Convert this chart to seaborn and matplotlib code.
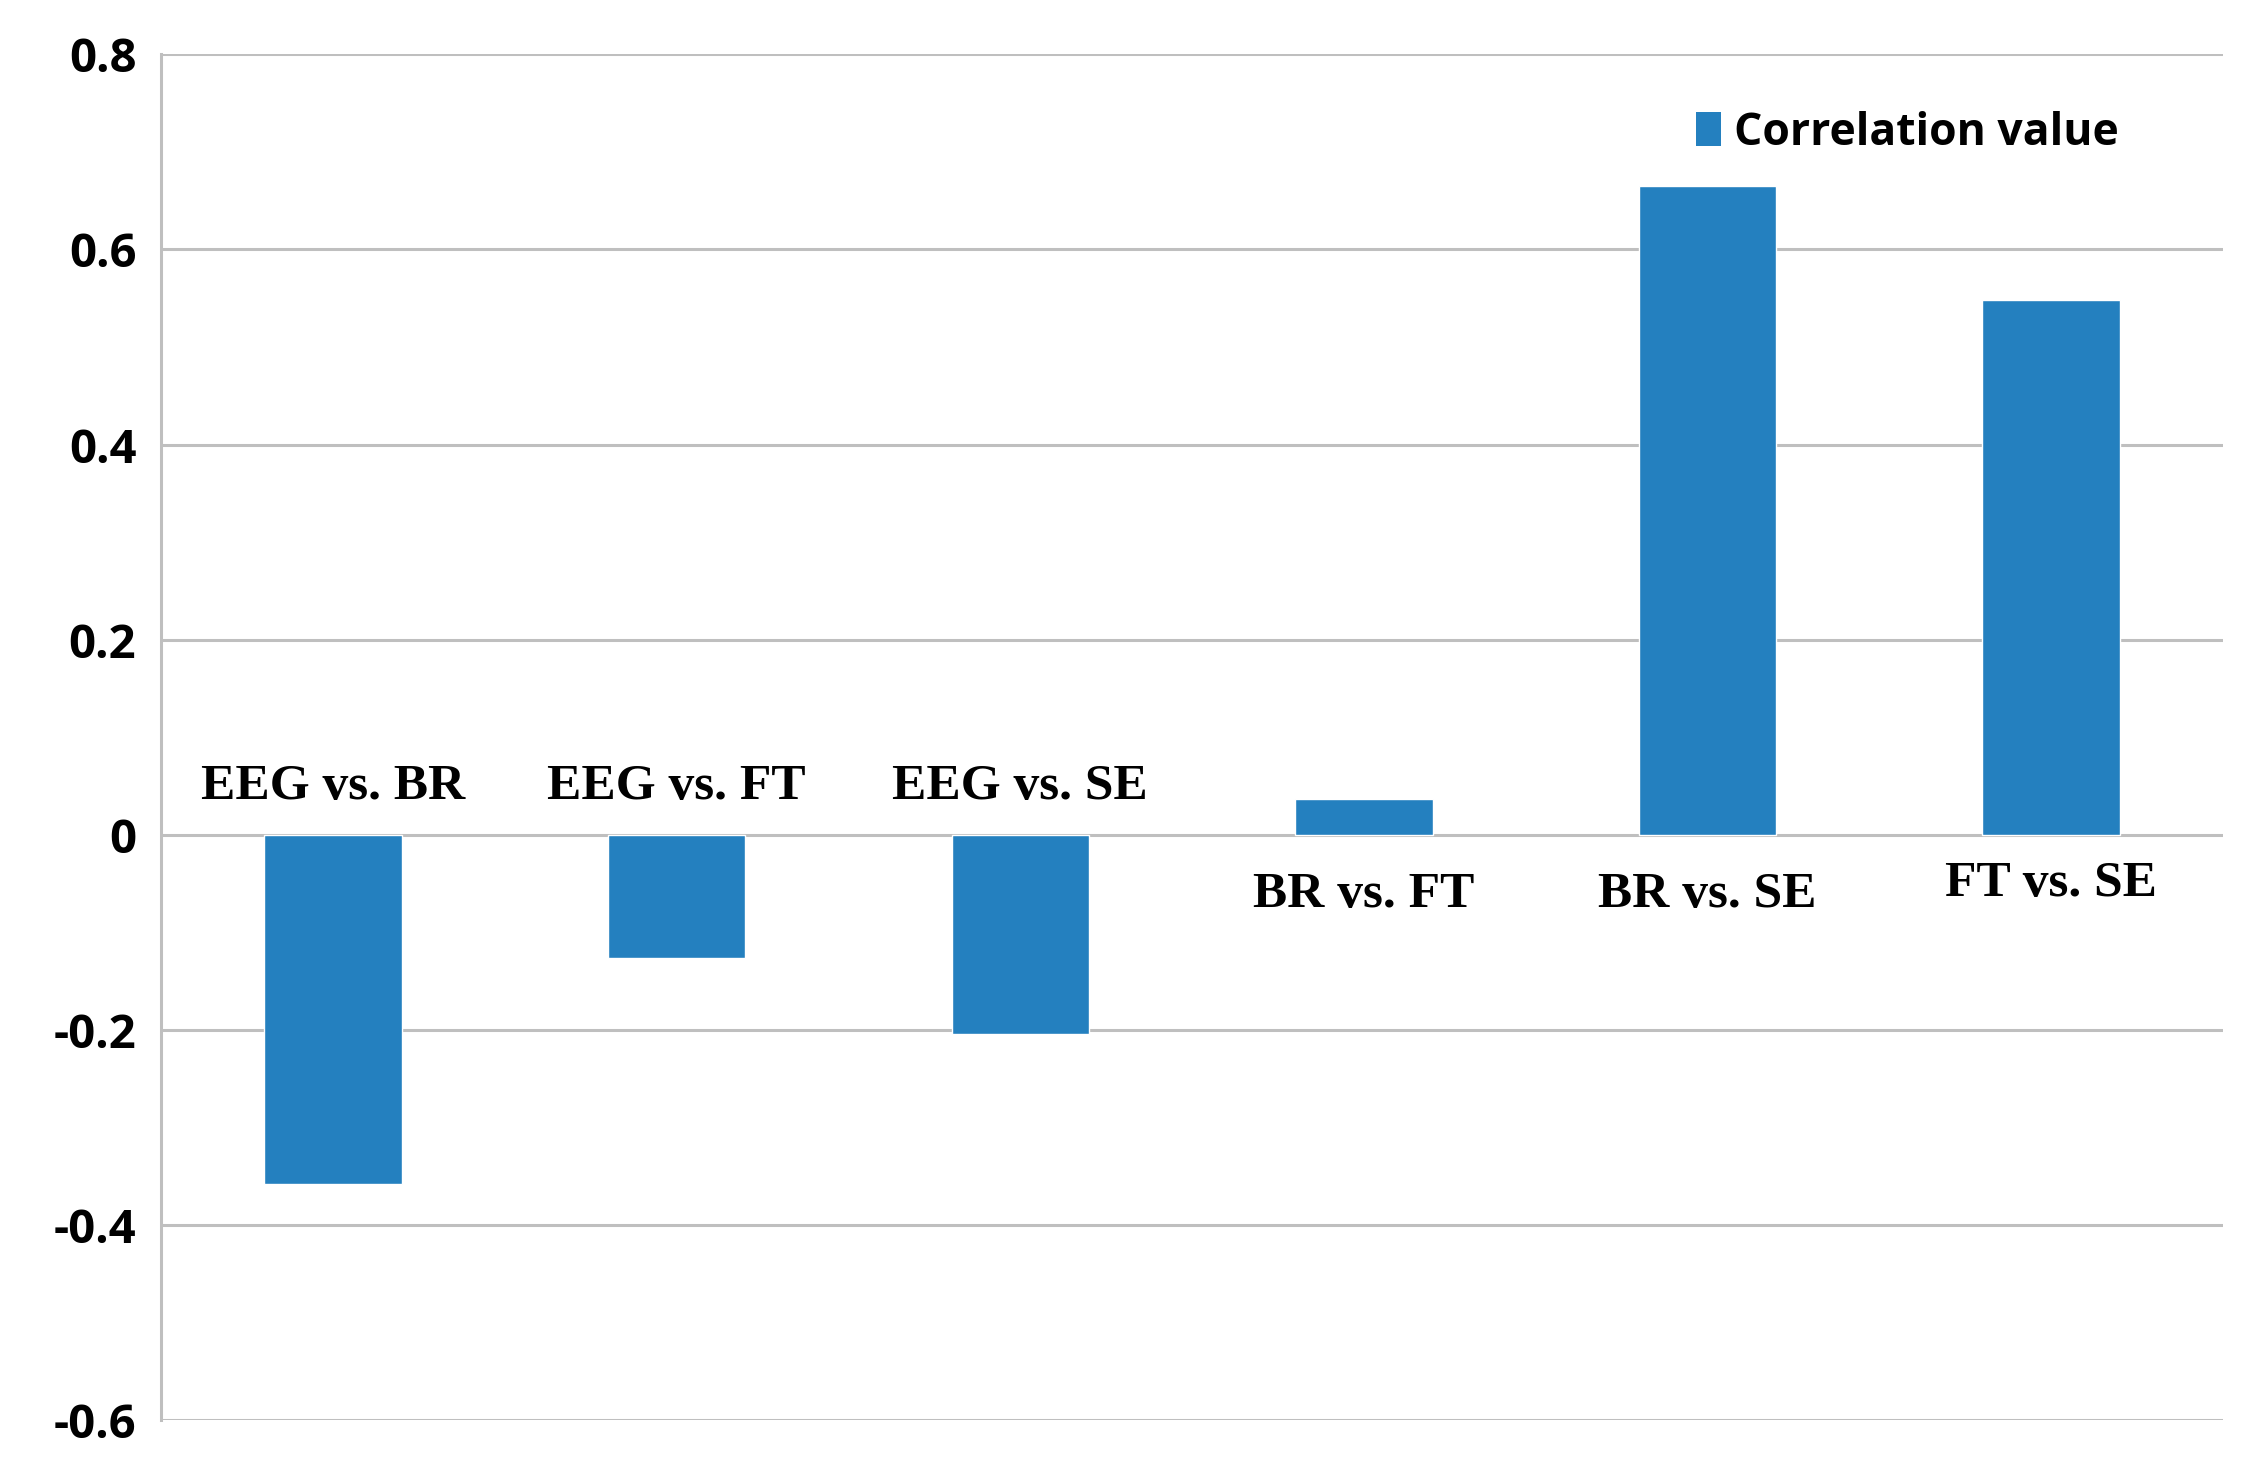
import matplotlib
matplotlib.use("Agg")
import matplotlib.pyplot as plt
import seaborn as sns
from matplotlib.patches import Patch

# pairwise correlation values
pairs = ["EEG vs. BR", "EEG vs. FT", "EEG vs. SE", "BR vs. FT", "BR vs. SE", "FT vs. SE"]
corr_values = [-0.358, -0.126, -0.204, 0.037, 0.665, 0.548]
y_ticks = [-0.6, -0.4, -0.2, 0, 0.2, 0.4, 0.6, 0.8]
tick_labels = ["-0.6", "-0.4", "-0.2", "0", "0.2", "0.4", "0.6", "0.8"]

bar_color = "#2480BF"
grid_color = "#BFBFBF"

sns.set_style("white")
plt.rcParams['font.family'] = ['Open Sans', 'DejaVu Sans']
plt.rcParams['text.color'] = 'black'
plt.rcParams['ytick.color'] = 'black'

fig, ax = plt.subplots(figsize=(22.59, 14.70), dpi=100)
fig.subplots_adjust(left=0.0714, right=0.984, top=0.963, bottom=0.034)

sns.barplot(x=pairs, y=corr_values, color=bar_color, width=0.4, saturation=1, ax=ax)

ax.set_ylim(-0.6, 0.8)
ax.set_xlim(-0.5, len(pairs) - 0.5)
ax.set_yticks(y_ticks)
ax.set_yticklabels(tick_labels, fontsize=34, fontweight="bold", color="black")
ax.set_xticks([])
ax.set_xlabel("")
ax.set_ylabel("")
ax.tick_params(axis="y", length=0, pad=18)
ax.yaxis.grid(True, color=grid_color, linewidth=2.2)
ax.set_axisbelow(True)

for side in ["top", "right", "bottom"]:
    ax.spines[side].set_visible(False)
ax.spines["left"].set_color(grid_color)
ax.spines["left"].set_linewidth(2.2)

# category names drawn as data labels next to the zero line
for i, (name, v) in enumerate(zip(pairs, corr_values)):
    if v < 0:
        y = 0.049
    elif name == "FT vs. SE":
        y = -0.051
    else:
        y = -0.062
    ax.text(i, y, name, ha="center", va="center", fontsize=37,
            fontweight="bold", family="Liberation Serif", color="black")

handle = Patch(facecolor=bar_color, edgecolor="none")
leg = ax.legend([handle], ["Correlation value"], loc="upper right",
                bbox_to_anchor=(0.969, 0.988), frameon=False,
                prop={"weight": "bold", "size": 32}, handlelength=0.55,
                handleheight=0.8, handletextpad=0.3)
for t in leg.get_texts():
    t.set_color("black")

fig.savefig("out.png", dpi=100)
